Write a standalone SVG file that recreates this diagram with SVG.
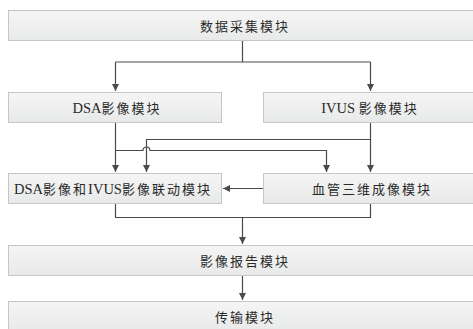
<svg xmlns="http://www.w3.org/2000/svg" width="473" height="329" viewBox="0 0 473 329">
  <defs>
    <linearGradient id="boxFill" x1="0" y1="0" x2="0" y2="1">
      <stop offset="0" stop-color="#f5f5f5"/>
      <stop offset="1" stop-color="#e8e9e9"/>
    </linearGradient>
    <marker id="arrow" viewBox="0 0 8 8" refX="8" refY="4" markerWidth="7" markerHeight="7" markerUnits="userSpaceOnUse" orient="auto">
      <path d="M0,0 L8,4 L0,8 z" fill="#4a4a4a"/>
    </marker>
  </defs>
  <style>
    .box { fill: url(#boxFill); stroke: #c6c6c6; stroke-width: 1; }
    .label { font-family: "Liberation Serif", "Noto Sans CJK SC", serif; font-size: 13px; fill: #2a2a2a; text-anchor: middle; letter-spacing: 2px; }
    .lat { font-size: 14.5px; letter-spacing: 0; }
    .wire { fill: none; stroke: #4a4a4a; stroke-width: 1.2; }
  </style>
  <rect width="473" height="329" fill="#ffffff"/>

  <g id="connectors">
    <!-- data collection splits to DSA and IVUS -->
    <path class="wire" d="M242.5,41 V62 M115.5,62 H370.5"/>
    <path class="wire" d="M115.5,62 V91" marker-end="url(#arrow)"/>
    <path class="wire" d="M370.5,62 V91" marker-end="url(#arrow)"/>
    <!-- DSA down to linkage module, branch to 3D vessel module (hops over IVUS line) -->
    <path class="wire" d="M115.5,123 V172" marker-end="url(#arrow)"/>
    <path class="wire" d="M115.5,150.5 H143 A3.5,3.5 0 0 1 150,150.5 H326.5 V172" marker-end="url(#arrow)"/>
    <!-- IVUS down to 3D vessel module, branch to linkage module -->
    <path class="wire" d="M370.5,123 V172" marker-end="url(#arrow)"/>
    <path class="wire" d="M370.5,139.5 H146.5 V172" marker-end="url(#arrow)"/>
    <!-- 3D vessel module to linkage module -->
    <path class="wire" d="M263,188.5 H223" marker-end="url(#arrow)"/>
    <!-- merge into report module -->
    <path class="wire" d="M115.5,203 V217.5 H370.5 V203 M242.5,217.5 V244" marker-end="url(#arrow)"/>
    <!-- report to transmission -->
    <path class="wire" d="M242.5,276 V300" marker-end="url(#arrow)"/>
  </g>

  <g id="data-collection">
    <rect class="box" x="8.5" y="10.5" width="470" height="30"/>
    <text class="label" x="245" y="30.5">数据采集模块</text>
  </g>
  <g id="dsa-image">
    <rect class="box" x="8.5" y="92.5" width="213" height="30"/>
    <text class="label" x="117" y="112.5"><tspan class="lat">DSA</tspan>影像模块</text>
  </g>
  <g id="ivus-image">
    <rect class="box" x="263.5" y="92.5" width="215" height="30"/>
    <text class="label" x="370" y="112.5"><tspan class="lat">IVUS </tspan>影像模块</text>
  </g>
  <g id="linkage">
    <rect class="box" x="8.5" y="173.5" width="213" height="30"/>
    <text class="label" x="113" y="193.5"><tspan class="lat">DSA</tspan>影像和<tspan class="lat">IVUS</tspan>影像联动模块</text>
  </g>
  <g id="vessel-3d">
    <rect class="box" x="263.5" y="173.5" width="215" height="30"/>
    <text class="label" x="372" y="193.5">血管三维成像模块</text>
  </g>
  <g id="report">
    <rect class="box" x="8.5" y="245.5" width="470" height="30"/>
    <text class="label" x="245" y="265.5">影像报告模块</text>
  </g>
  <g id="transmission">
    <rect class="box" x="8.5" y="301.5" width="470" height="30"/>
    <text class="label" x="245" y="321.5">传输模块</text>
  </g>
</svg>
